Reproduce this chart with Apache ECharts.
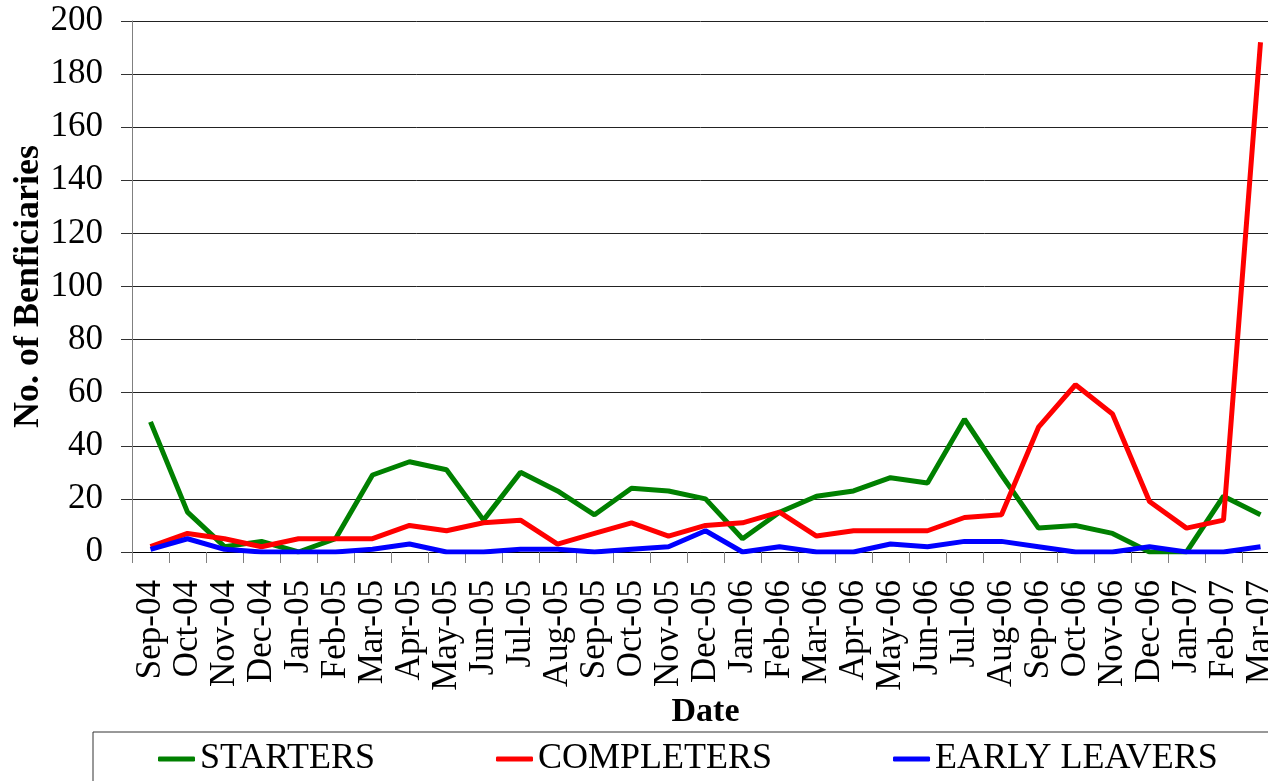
<!DOCTYPE html>
<html>
<head>
<meta charset="utf-8">
<script src="https://cdn.jsdelivr.net/npm/echarts@6/dist/echarts.min.js"></script>
<style>
html,body{margin:0;padding:0;background:#fff;}
#chart{width:1268px;height:781px;}
</style>
</head>
<body>
<div id="chart"></div>
<script>
const categories = ['Sep-04','Oct-04','Nov-04','Dec-04','Jan-05','Feb-05','Mar-05','Apr-05','May-05','Jun-05','Jul-05','Aug-05','Sep-05','Oct-05','Nov-05','Dec-05','Jan-06','Feb-06','Mar-06','Apr-06','May-06','Jun-06','Jul-06','Aug-06','Sep-06','Oct-06','Nov-06','Dec-06','Jan-07','Feb-07','Mar-07'];
const starters = [49,15,2,4,0,5,29,34,31,12,30,23,14,24,23,20,5,15,21,23,28,26,50,29,9,10,7,0,0,21,14];
const completers = [2,7,5,2,5,5,5,10,8,11,12,3,7,11,6,10,11,15,6,8,8,8,13,14,47,63,52,19,9,12,192];
const earlyLeavers = [1,5,1,0,0,0,1,3,0,0,1,1,0,1,2,8,0,2,0,0,3,2,4,4,2,0,0,2,0,0,2];
const yTicks = {min:0, max:200, interval:20};

const FONT = '"Liberation Serif","Times New Roman",serif';
const chart = echarts.init(document.getElementById('chart'), null, {renderer:'canvas'});
chart.setOption({
  backgroundColor:'#ffffff',
  animation:false,
  grid:{left:132, width:1147, top:21, bottom:229, containLabel:false, outerBoundsMode:'none'},
  graphic:[{
    type:'rect', silent:true,
    shape:{x:93, y:732, width:1300, height:120},
    style:{fill:'none', stroke:'#333', lineWidth:1}
  }],
  legend:{
    left:153, top:736, padding:5,
    icon:'roundRect', itemWidth:37, itemHeight:5, itemGap:121,
    textStyle:{fontFamily:FONT, fontSize:36, color:'#000', lineHeight:36},
    data:['STARTERS','COMPLETERS','EARLY LEAVERS']
  },
  xAxis:{
    type:'category', data:categories, boundaryGap:true,
    name:'Date', nameLocation:'middle', nameGap:143, nameMoveOverlap:false,
    nameTextStyle:{fontFamily:FONT, fontSize:34, fontWeight:'bold', color:'#000'},
    axisLine:{lineStyle:{color:'#000', width:1}},
    axisTick:{show:true, alignWithLabel:false, length:11, lineStyle:{color:'#808080'}},
    axisLabel:{interval:0, rotate:90, margin:28, fontFamily:FONT, fontSize:35, color:'#000'},
    splitLine:{show:false}
  },
  yAxis:{
    type:'value', min:yTicks.min, max:yTicks.max, interval:yTicks.interval,
    name:'No. of Benficiaries', nameLocation:'middle', nameRotate:90, nameGap:85, nameMoveOverlap:false,
    nameTextStyle:{fontFamily:FONT, fontSize:36, fontWeight:'bold', color:'#000'},
    axisLine:{show:true, lineStyle:{color:'#808080', width:1}},
    axisTick:{show:true, length:11, lineStyle:{color:'#333'}},
    axisLabel:{margin:29, fontFamily:FONT, fontSize:35, color:'#000'},
    splitLine:{show:true, lineStyle:{color:'#222', width:1}}
  },
  series:[
    {name:'STARTERS', type:'line', data:starters, symbol:'none', color:'#008000', lineStyle:{width:5, color:'#008000'}},
    {name:'COMPLETERS', type:'line', data:completers, symbol:'none', color:'#ff0000', lineStyle:{width:5, color:'#ff0000'}},
    {name:'EARLY LEAVERS', type:'line', data:earlyLeavers, symbol:'none', color:'#0000ff', lineStyle:{width:5, color:'#0000ff'}}
  ]
});
</script>
</body>
</html>
